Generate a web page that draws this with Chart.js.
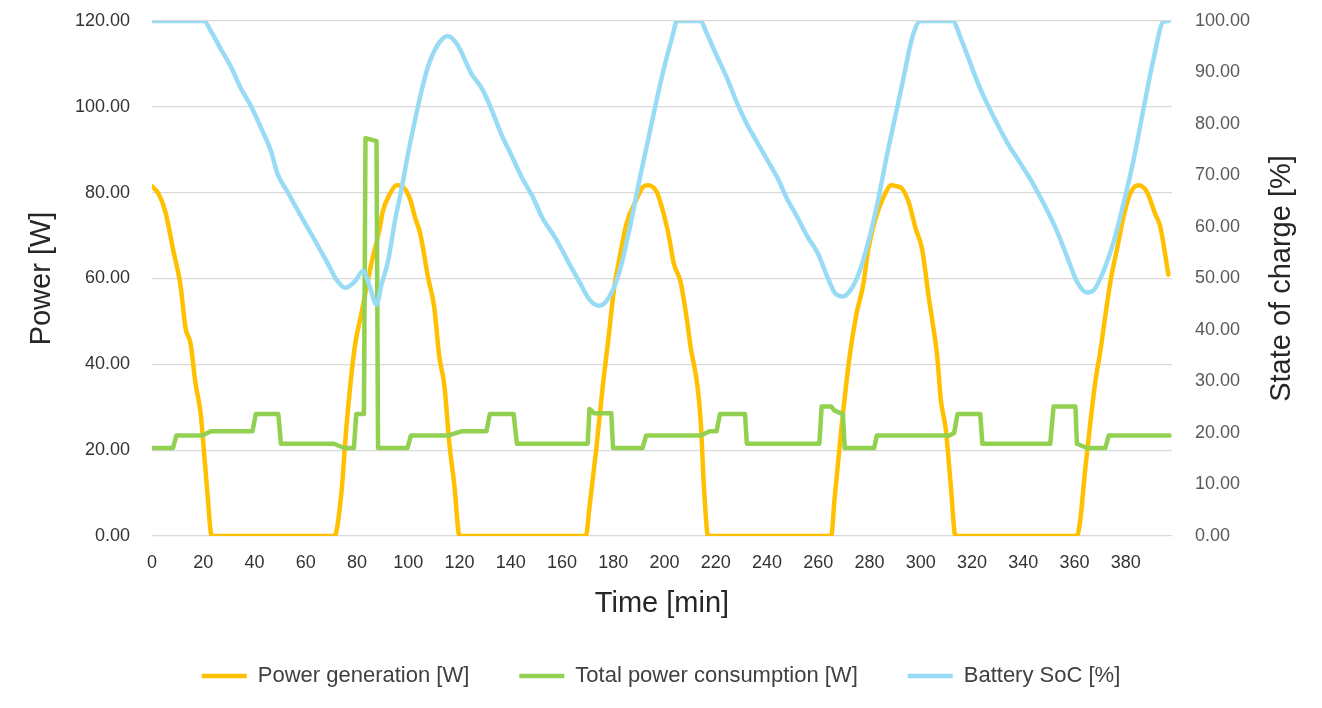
<!DOCTYPE html>
<html>
<head>
<meta charset="utf-8">
<script src="https://cdn.jsdelivr.net/npm/chart.js@4.4.1/dist/chart.umd.min.js"></script>
<style>
  html, body { margin: 0; padding: 0; background: #fff; }
</style>
</head>
<body>
<canvas id="chart" width="1322" height="708"></canvas>
<script>
// values
const genTime = [0, 2.6, 5.2, 8.5, 11.1, 13.1, 15, 17, 19, 20.3, 21.6, 23.3, 71.2, 73.9, 75.8, 79.1, 81.7, 85.6, 88.9, 90, 92.8, 95.5, 97.5, 100.7, 102.6, 104.6, 107.8, 110.1, 112.1, 114.1, 116, 118, 120,
  169.3, 170.7, 173.3, 175.9, 177.9, 180.5, 182.5, 185.1, 189.1, 191.7, 193.5, 196.9, 199.6, 201.6, 203.6, 206.2, 208.8, 210.1, 212.8, 214.1, 215.5, 217,
  265, 266.3, 269, 272.2, 274.9, 277.5, 279.5, 282.1, 285.4, 288.5, 290.5, 292.6, 295.3, 297.9, 300.5, 303.2, 304.5, 306.4, 307.8, 309.7, 311.7, 313.5,
  360.9, 362.2, 364.1, 366.1, 368, 370, 371.9, 374.1, 376.5, 379.1, 381.7, 384.9, 388.2, 391.4, 393.4, 396.6];
const genPower = [81.5, 79.7, 75.6, 66, 58.5, 48.4, 45, 35.5, 28.5, 19.5, 10.2, 0, 0, 10, 25, 44, 51.8, 63.5, 71.8, 75.5, 79.7, 81.7, 81.5, 78.5, 74.3, 70.6, 60, 53.4, 41.8, 35, 21.7, 11.7, 0,
  0, 6.7, 20, 35, 45, 58.5, 65, 72.7, 78.5, 81.4, 81.7, 80.2, 75.2, 70.1, 63.5, 59.3, 50.1, 44.3, 35.1, 26.7, 10, 0,
  0, 8.4, 25, 41.8, 51.8, 58.5, 66.8, 73.5, 78.9, 81.7, 81.5, 81, 77.7, 71.8, 66.8, 55.1, 50.1, 41.8, 31.7, 25, 11.7, 0,
  0, 3.7, 15.3, 26.2, 35.6, 42.9, 51, 59.7, 66.7, 74.4, 79.8, 81.7, 80.2, 75.1, 72.1, 60.9];

const loadTime = [0, 8.2, 9.5, 19.6, 23, 39.2, 40.5, 49.3, 50.3, 71, 75, 78.8, 79.7, 82.7, 83.3, 87.6, 88.2, 99.7, 101, 115.4, 120.7, 130.5, 131.8, 141.1, 142.4, 170, 170.7, 172.6, 179.2, 179.9, 191.4, 192.8, 214.1, 217.6, 220.3, 221.6, 231.4, 232.1, 260.4, 261.3, 265, 266.3, 269.6, 270.3, 281.8, 282.8, 311.1, 313, 314.3, 323.2, 324, 350.5, 351.8, 360.3, 360.9, 364.8, 372, 373.3, 397];
const loadPower = [20.5, 20.5, 23.4, 23.4, 24.4, 24.4, 28.4, 28.4, 21.5, 21.5, 20.5, 20.5, 28.4, 28.4, 92.7, 92, 20.5, 20.5, 23.4, 23.4, 24.4, 24.4, 28.4, 28.4, 21.5, 21.5, 29.6, 28.6, 28.6, 20.5, 20.5, 23.4, 23.4, 24.4, 24.4, 28.4, 28.4, 21.5, 21.5, 30.2, 30.2, 29.2, 28.4, 20.5, 20.5, 23.4, 23.4, 24, 28.4, 28.4, 21.5, 21.5, 30.2, 30.2, 21.5, 20.5, 20.5, 23.4, 23.4];

const socTime = [0, 20.3, 22.9, 26.8, 30.7, 34.6, 38.6, 42.5, 46.4, 49, 52.9, 56.8, 60.8, 64.7, 68.6, 71.9, 75.4, 79.1, 82.4, 85, 87.6, 89.5, 92.2, 94.8, 97.4, 100, 102.6, 105.2, 107.8, 111.4, 115.4, 119.3, 124.6, 128.6, 132.5, 136.4, 140.4, 144.3, 148.3, 152.2, 157.5, 162.8, 166.7, 170.7, 174.6, 178.6, 182.5, 186.4, 190.4, 194.3, 197, 199.6, 202.9, 204.9,
  214.1, 216.3, 220.3, 224.2, 228.2, 232.1, 236.1, 240, 244, 247.9, 251.8, 255.8, 259.7, 263.7, 266.3, 269.6, 272.9, 276.2, 279.5, 283.4, 286.7, 290, 293.3, 296.6, 299.9,
  312.4, 315.7, 319.3, 323.2, 328.4, 333.6, 338.8, 344, 349.2, 353.1, 357, 360.9, 364.8, 367.4, 371.3, 375.2, 379.1, 383, 386.9, 390.8, 394.7, 396.7];
const socLevel = [100, 100, 98.1, 94.6, 91.2, 87, 83.5, 79.3, 74.8, 70.3, 66.8, 63.3, 59.8, 56.4, 52.9, 49.8, 48.2, 49.4, 51.5, 48.4, 44.9, 48.7, 53.6, 61.2, 67.5, 74.5, 80.7, 86.5, 91.3, 95.3, 97.1, 95.3, 89.8, 87, 82.8, 77.9, 73.8, 69.6, 66.1, 61.9, 57.8, 52.9, 49.4, 45.9, 44.7, 46.6, 51.5, 59.8, 69.6, 78.6, 84.9, 90.5, 96.7, 100,
  100, 97.8, 93.3, 89.1, 84.2, 80, 76.5, 73.1, 69.6, 65.4, 61.9, 58.1, 55, 50.1, 47.3, 46.5, 48, 51.5, 57.1, 65.4, 73.8, 81.4, 89.1, 96.7, 100,
  100, 96.5, 91.8, 86.8, 81.4, 76.5, 72.4, 68.2, 63.3, 59.2, 54.3, 49.4, 47.3, 47.7, 51.5, 57.1, 64.6, 73, 83, 92.6, 99.9, 100];

const timeTicks = [0, 20, 40, 60, 80, 100, 120, 140, 160, 180, 200, 220, 240, 260, 280, 300, 320, 340, 360, 380];
const powerTicks = [0, 20, 40, 60, 80, 100, 120];
const socTicks = [0, 10, 20, 30, 40, 50, 60, 70, 80, 90, 100];

const FONT = "'Liberation Sans', Arial, sans-serif";

function pairs(xs, ys) {
  return xs.map((x, i) => ({ x: x, y: ys[i] }));
}

// right axis title reads bottom-to-top like the left one
const rightTitle = {
  id: 'rightTitle',
  afterDraw(chart) {
    const ctx = chart.ctx;
    const area = chart.chartArea;
    ctx.save();
    ctx.translate(1282, (area.top + area.bottom) / 2);
    ctx.rotate(-Math.PI / 2);
    ctx.font = '29px ' + FONT;
    ctx.fillStyle = '#262626';
    ctx.textAlign = 'center';
    ctx.textBaseline = 'middle';
    ctx.fillText('State of charge [%]', 0, 0);
    ctx.restore();
  }
};

new Chart(document.getElementById('chart'), {
  type: 'line',
  data: {
    datasets: [
      {
        label: 'Power generation [W]',
        data: pairs(genTime, genPower),
        borderColor: '#FFC000',
        backgroundColor: '#FFC000',
        borderWidth: 4.5,
        cubicInterpolationMode: 'monotone',
        yAxisID: 'y',
        order: 3
      },
      {
        label: 'Total power consumption [W]',
        data: pairs(loadTime, loadPower),
        borderColor: '#92D050',
        backgroundColor: '#92D050',
        borderWidth: 4.5,
        yAxisID: 'y',
        order: 2
      },
      {
        label: 'Battery SoC [%]',
        data: pairs(socTime, socLevel),
        borderColor: '#97DBF5',
        backgroundColor: '#97DBF5',
        borderWidth: 4.5,
        cubicInterpolationMode: 'monotone',
        yAxisID: 'y2',
        order: 1
      }
    ]
  },
  options: {
    responsive: false,
    animation: false,
    layout: { padding: { top: 21, left: 0, right: 0, bottom: 11 } },
    elements: {
      point: { radius: 0 },
      line: { tension: 0, borderCapStyle: 'round', borderJoinStyle: 'round' }
    },
    scales: {
      x: {
        type: 'linear',
        min: 0,
        max: 398,
        afterBuildTicks: s => { s.ticks = timeTicks.map(v => ({ value: v })); },
        afterFit: s => { s.height = 79; },
        grid: { display: false, drawTicks: false, tickLength: 0 },
        border: { display: false },
        ticks: { color: '#333333', padding: 16, maxRotation: 0, font: { family: FONT, size: 18 } },
        title: { display: true, text: 'Time [min]', color: '#262626', padding: { top: 0, bottom: -6 }, font: { family: FONT, size: 29 } }
      },
      y: {
        position: 'left',
        min: 0,
        max: 120,
        afterBuildTicks: s => { s.ticks = powerTicks.map(v => ({ value: v })); },
        afterFit: s => { s.width = 152; },
        // invisible tick marks keep the labels away from the plot
        grid: { color: '#D9D9D9', lineWidth: 1.3, drawTicks: true, tickLength: 22, tickColor: 'rgba(0,0,0,0)' },
        border: { display: false },
        ticks: { color: '#333333', padding: 0, callback: v => v.toFixed(2), font: { family: FONT, size: 18 } },
        title: { display: true, text: 'Power [W]', color: '#262626', padding: { top: 25, bottom: 0 }, font: { family: FONT, size: 29 } }
      },
      y2: {
        position: 'right',
        min: 0,
        max: 100,
        afterBuildTicks: s => { s.ticks = socTicks.map(v => ({ value: v })); },
        afterFit: s => { s.width = 150; },
        grid: { display: true, drawOnChartArea: false, color: 'rgba(0,0,0,0)', drawTicks: true, tickLength: 23, tickColor: 'rgba(0,0,0,0)' },
        border: { display: false },
        ticks: { color: '#595959', padding: 0, callback: v => v.toFixed(2), font: { family: FONT, size: 18 } }
      }
    },
    plugins: {
      tooltip: { enabled: false },
      legend: {
        position: 'bottom',
        labels: {
          usePointStyle: true,
          pointStyle: 'line',
          pointStyleWidth: 45,
          padding: 50,
          color: '#404040',
          sort: (a, b) => a.datasetIndex - b.datasetIndex,
          font: { family: FONT, size: 22 }
        }
      }
    }
  },
  plugins: [rightTitle]
});
</script>
</body>
</html>
